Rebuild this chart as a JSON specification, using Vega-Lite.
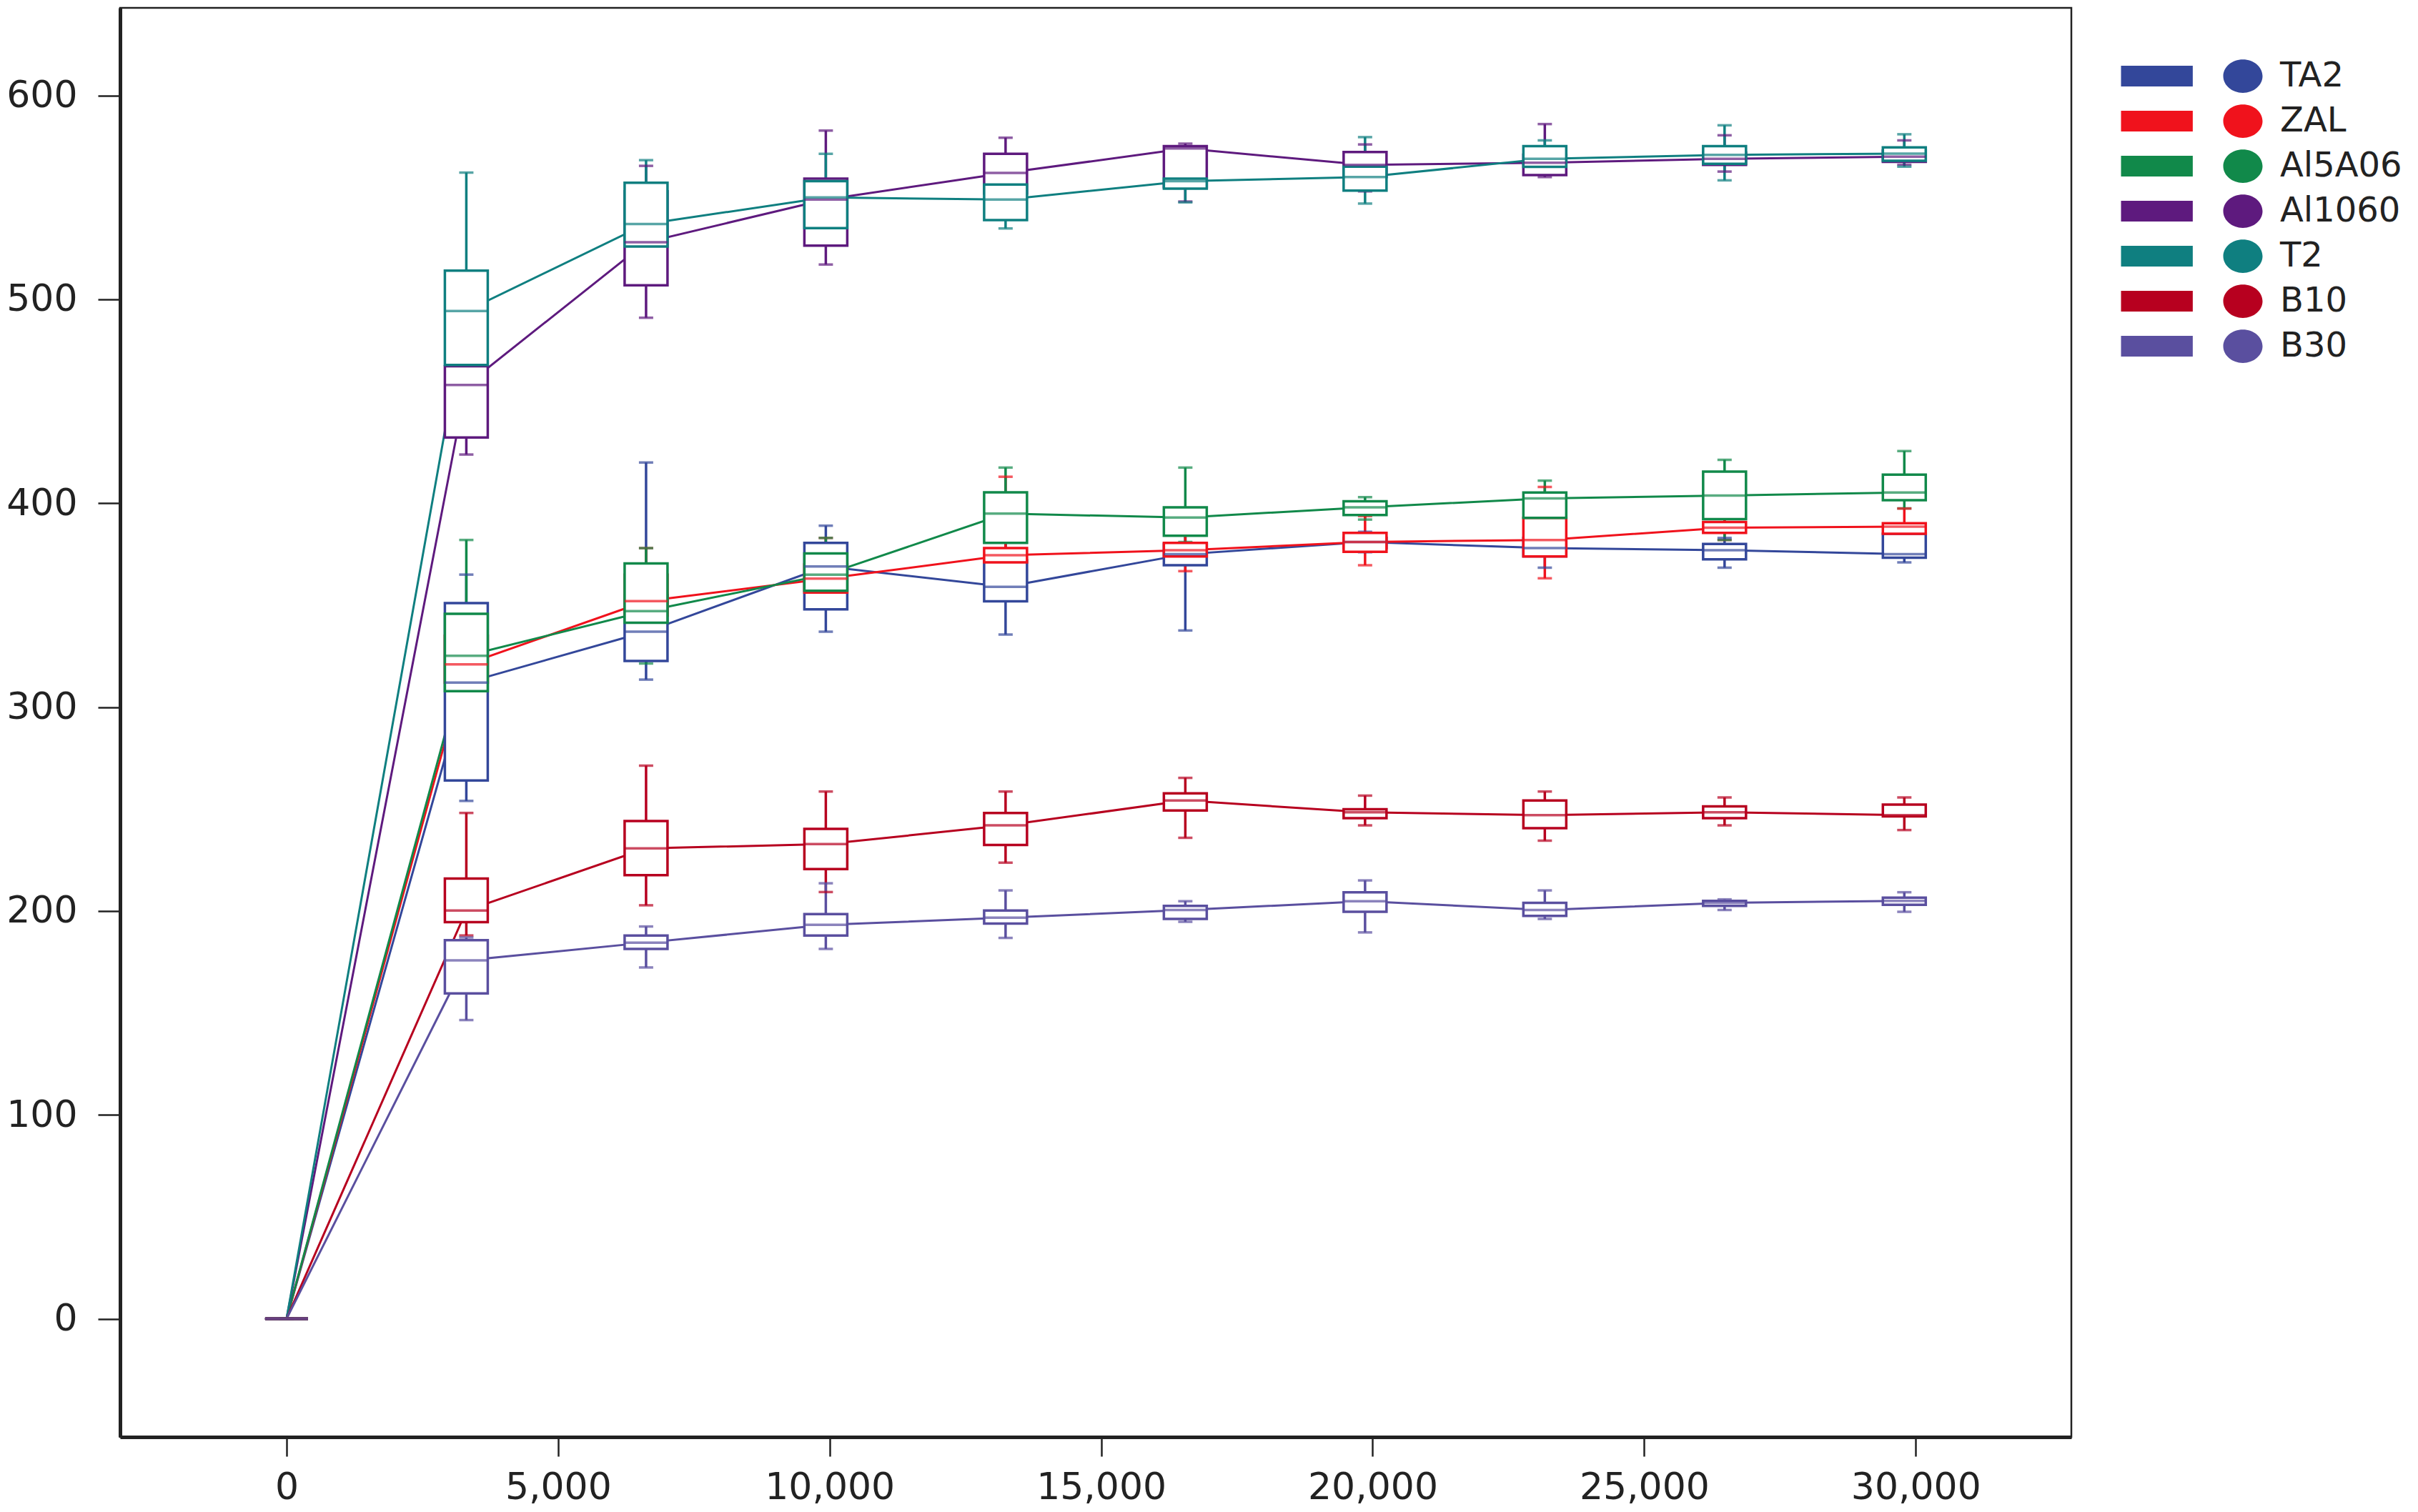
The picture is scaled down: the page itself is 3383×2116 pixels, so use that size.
{
  "$schema": "https://vega.github.io/schema/vega-lite/v6.json",
  "autosize": {"type": "none"},
  "padding": {"left": 168, "top": 11, "right": 485, "bottom": 105},
  "width": 2730,
  "height": 2000,
  "background": "white",
  "config": {
    "view": {"stroke": "#222", "strokeWidth": 2.5},
    "axis": {"grid": false, "labelFont": "DejaVu Sans", "labelFontSize": 52, "labelColor": "#222", "labelLimit": 500, "domainColor": "#222", "domainWidth": 5, "tickColor": "#222", "tickWidth": 2.5, "title": null}
  },
  "data": {"values": [
    {"s":"TA2","x":0,"lo":0,"q1":0,"med":0,"q3":0,"hi":0},
    {"s":"TA2","x":3310,"lo":254,"q1":264,"med":312,"q3":351,"hi":365},
    {"s":"TA2","x":6620,"lo":313.5,"q1":322.6,"med":337,"q3":355,"hi":420},
    {"s":"TA2","x":9930,"lo":337,"q1":348,"med":369,"q3":380.6,"hi":389},
    {"s":"TA2","x":13240,"lo":335.6,"q1":351.9,"med":359,"q3":372,"hi":385},
    {"s":"TA2","x":16550,"lo":337.6,"q1":369.6,"med":375,"q3":380,"hi":385},
    {"s":"TA2","x":19860,"lo":376,"q1":378,"med":381,"q3":383,"hi":386},
    {"s":"TA2","x":23170,"lo":368.4,"q1":374,"med":378,"q3":383,"hi":388},
    {"s":"TA2","x":26480,"lo":368.4,"q1":372.5,"med":377,"q3":380,"hi":383},
    {"s":"TA2","x":29790,"lo":371,"q1":373.3,"med":375,"q3":385,"hi":387},
    {"s":"ZAL","x":0,"lo":0,"q1":0,"med":0,"q3":0,"hi":0},
    {"s":"ZAL","x":3310,"lo":304.8,"q1":312,"med":321,"q3":335,"hi":345},
    {"s":"ZAL","x":6620,"lo":339.7,"q1":345,"med":352,"q3":365,"hi":378},
    {"s":"ZAL","x":9930,"lo":349.6,"q1":356.2,"med":363,"q3":370,"hi":383},
    {"s":"ZAL","x":13240,"lo":365,"q1":371,"med":374.5,"q3":378,"hi":413},
    {"s":"ZAL","x":16550,"lo":366.7,"q1":373.9,"med":377,"q3":380.6,"hi":385},
    {"s":"ZAL","x":19860,"lo":369.6,"q1":376.2,"med":381,"q3":385.5,"hi":393.7},
    {"s":"ZAL","x":23170,"lo":363.2,"q1":373.9,"med":382,"q3":392.8,"hi":408},
    {"s":"ZAL","x":26480,"lo":382,"q1":385.5,"med":388,"q3":390.8,"hi":395},
    {"s":"ZAL","x":29790,"lo":383,"q1":385,"med":388.5,"q3":390.2,"hi":397.4},
    {"s":"Al5A06","x":0,"lo":0,"q1":0,"med":0,"q3":0,"hi":0},
    {"s":"Al5A06","x":3310,"lo":288.9,"q1":307.8,"med":325.2,"q3":345.8,"hi":382},
    {"s":"Al5A06","x":6620,"lo":321.4,"q1":341.4,"med":347.1,"q3":370.5,"hi":378},
    {"s":"Al5A06","x":9930,"lo":352,"q1":357.1,"med":365,"q3":375.4,"hi":383},
    {"s":"Al5A06","x":13240,"lo":365.3,"q1":380.6,"med":394.9,"q3":405.4,"hi":417.5},
    {"s":"Al5A06","x":16550,"lo":381,"q1":384.1,"med":393,"q3":398,"hi":417.5},
    {"s":"Al5A06","x":19860,"lo":392,"q1":394.2,"med":398,"q3":401,"hi":403},
    {"s":"Al5A06","x":23170,"lo":390.2,"q1":392.8,"med":402.4,"q3":405.3,"hi":411.1},
    {"s":"Al5A06","x":26480,"lo":382,"q1":392.2,"med":403.8,"q3":415.5,"hi":421.3},
    {"s":"Al5A06","x":29790,"lo":397.5,"q1":401.5,"med":405.3,"q3":414,"hi":425.6},
    {"s":"Al1060","x":0,"lo":0,"q1":0,"med":0,"q3":0,"hi":0},
    {"s":"Al1060","x":3310,"lo":423.9,"q1":432.3,"med":458,"q3":467.2,"hi":475},
    {"s":"Al1060","x":6620,"lo":491,"q1":506.9,"med":528,"q3":553,"hi":565.5},
    {"s":"Al1060","x":9930,"lo":517.1,"q1":526.4,"med":549,"q3":559.2,"hi":582.8},
    {"s":"Al1060","x":13240,"lo":545,"q1":552,"med":562,"q3":571.4,"hi":579.3},
    {"s":"Al1060","x":16550,"lo":548,"q1":555,"med":574,"q3":575.2,"hi":576.4},
    {"s":"Al1060","x":19860,"lo":553,"q1":560,"med":566,"q3":572.3,"hi":576},
    {"s":"Al1060","x":23170,"lo":560,"q1":561,"med":567,"q3":571,"hi":586},
    {"s":"Al1060","x":26480,"lo":562.7,"q1":566,"med":569,"q3":572,"hi":580.5},
    {"s":"Al1060","x":29790,"lo":566,"q1":567.5,"med":570,"q3":573,"hi":578},
    {"s":"T2","x":0,"lo":0,"q1":0,"med":0,"q3":0,"hi":0},
    {"s":"T2","x":3310,"lo":453.3,"q1":467.8,"med":494.3,"q3":514.1,"hi":562.2},
    {"s":"T2","x":6620,"lo":520,"q1":525.9,"med":537,"q3":557.2,"hi":568.3},
    {"s":"T2","x":9930,"lo":530,"q1":535,"med":550,"q3":558,"hi":571.4},
    {"s":"T2","x":13240,"lo":534.8,"q1":538.9,"med":549,"q3":556.3,"hi":562.2},
    {"s":"T2","x":16550,"lo":547.6,"q1":554.3,"med":558,"q3":559.2,"hi":563.6},
    {"s":"T2","x":19860,"lo":547,"q1":553.4,"med":560,"q3":565.1,"hi":579.6},
    {"s":"T2","x":23170,"lo":562,"q1":565,"med":569,"q3":575.2,"hi":578},
    {"s":"T2","x":26480,"lo":558.4,"q1":566.5,"med":570.9,"q3":575.2,"hi":585.4},
    {"s":"T2","x":29790,"lo":565.1,"q1":568,"med":571.5,"q3":574.6,"hi":581},
    {"s":"B10","x":0,"lo":0,"q1":0,"med":0,"q3":0,"hi":0},
    {"s":"B10","x":3310,"lo":188,"q1":194.5,"med":200.2,"q3":215.9,"hi":248.1},
    {"s":"B10","x":6620,"lo":202.8,"q1":217.6,"med":230.7,"q3":244.1,"hi":271.3},
    {"s":"B10","x":9930,"lo":209.3,"q1":220.6,"med":232.8,"q3":240.3,"hi":258.6},
    {"s":"B10","x":13240,"lo":223.7,"q1":232.4,"med":242,"q3":248.1,"hi":258.6},
    {"s":"B10","x":16550,"lo":235.9,"q1":249.3,"med":254.2,"q3":257.7,"hi":265.3},
    {"s":"B10","x":19860,"lo":242,"q1":245.5,"med":248.4,"q3":249.9,"hi":256.6},
    {"s":"B10","x":23170,"lo":234.5,"q1":240.6,"med":247,"q3":254.2,"hi":258.6},
    {"s":"B10","x":26480,"lo":242,"q1":245.5,"med":248.4,"q3":251.3,"hi":255.7},
    {"s":"B10","x":29790,"lo":239.7,"q1":246.4,"med":247,"q3":252.2,"hi":255.7},
    {"s":"B30","x":0,"lo":0,"q1":0,"med":0,"q3":0,"hi":0},
    {"s":"B30","x":3310,"lo":146.5,"q1":159.6,"med":175.8,"q3":185.7,"hi":187},
    {"s":"B30","x":6620,"lo":172.3,"q1":181.4,"med":184.5,"q3":188,"hi":192.4},
    {"s":"B30","x":9930,"lo":181.4,"q1":188,"med":193.2,"q3":198.5,"hi":213.6},
    {"s":"B30","x":13240,"lo":186.8,"q1":193.8,"med":196.7,"q3":200.2,"hi":210.1},
    {"s":"B30","x":16550,"lo":194.7,"q1":196.1,"med":200.5,"q3":202.5,"hi":204.8},
    {"s":"B30","x":19860,"lo":189.5,"q1":199.6,"med":204.8,"q3":209.2,"hi":215},
    {"s":"B30","x":23170,"lo":196.1,"q1":197.6,"med":200.5,"q3":204,"hi":210.1},
    {"s":"B30","x":26480,"lo":200.5,"q1":202.5,"med":204,"q3":205,"hi":205.7},
    {"s":"B30","x":29790,"lo":199.6,"q1":203,"med":205,"q3":206.5,"hi":209.2}
  ]},
  "encoding": {
    "x": {"field": "x", "type": "quantitative", "scale": {"domain": [-3000, 32800], "nice": false, "zero": false},
      "axis": {"values": [0, 5000, 10000, 15000, 20000, 25000, 30000], "labelExpr": "format(datum.value, ',')", "tickSize": 27, "labelPadding": 18}}
  },
  "layer": [
    {
      "mark": {"type": "line", "strokeWidth": 3},
      "encoding": {
        "y": {"field": "med", "type": "quantitative", "scale": {"domain": [-58, 643], "nice": false, "zero": false},
          "axis": {"values": [0, 100, 200, 300, 400, 500, 600], "tickSize": 31, "labelPadding": 29}},
        "color": {"field": "s", "type": "nominal",
          "scale": {"domain": ["TA2", "ZAL", "Al5A06", "Al1060", "T2", "B10", "B30"], "range": ["#33479a", "#f0121c", "#11894a", "#5e1a7e", "#0f7f80", "#b7001f", "#5a4f9f"]},
          "legend": {"orient": "none", "legendX": 2942.5, "legendY": 68, "title": null, "padding": 0,
            "symbolType": "M-6.2,-0.53H-2.55V0.53H-6.2Z M-1,0 A1,0.85 0 1,0 1,0 A1,0.85 0 1,0 -1,0 Z",
            "symbolSize": 3025, "symbolStrokeWidth": 0, "labelFontSize": 48, "labelFont": "DejaVu Sans", "labelColor": "#222", "labelLimit": 400,
            "labelOffset": 24.5, "rowPadding": 11,
            "encode": {"symbols": {"update": {"fill": {"scale": "color", "field": "value"}, "opacity": {"value": 1}, "strokeWidth": {"value": 0}}}}}}
      }
    },
    {
      "mark": {"type": "rule", "strokeWidth": 3.5},
      "encoding": {"y": {"field": "lo", "type": "quantitative"}, "y2": {"field": "q1"}, "color": {"field": "s", "type": "nominal"}}
    },
    {
      "mark": {"type": "rule", "strokeWidth": 3.5},
      "encoding": {"y": {"field": "q3", "type": "quantitative"}, "y2": {"field": "hi"}, "color": {"field": "s", "type": "nominal"}}
    },
    {
      "mark": {"type": "tick", "orient": "horizontal", "size": 20, "thickness": 3.5},
      "encoding": {"y": {"field": "lo", "type": "quantitative"}, "color": {"field": "s", "type": "nominal"}}
    },
    {
      "mark": {"type": "tick", "orient": "horizontal", "size": 20, "thickness": 3.5},
      "encoding": {"y": {"field": "hi", "type": "quantitative"}, "color": {"field": "s", "type": "nominal"}}
    },
    {
      "mark": {"type": "bar", "width": 60, "fill": "white", "strokeWidth": 3.5},
      "encoding": {
        "y": {"field": "q1", "type": "quantitative"}, "y2": {"field": "q3"},
        "stroke": {"field": "s", "type": "nominal", "legend": null,
          "scale": {"domain": ["TA2", "ZAL", "Al5A06", "Al1060", "T2", "B10", "B30"], "range": ["#33479a", "#f0121c", "#11894a", "#5e1a7e", "#0f7f80", "#b7001f", "#5a4f9f"]}}
      }
    },
    {
      "mark": {"type": "tick", "orient": "horizontal", "size": 60, "thickness": 3.5},
      "encoding": {"y": {"field": "med", "type": "quantitative"}, "color": {"field": "s", "type": "nominal"}}
    }
  ]
}
